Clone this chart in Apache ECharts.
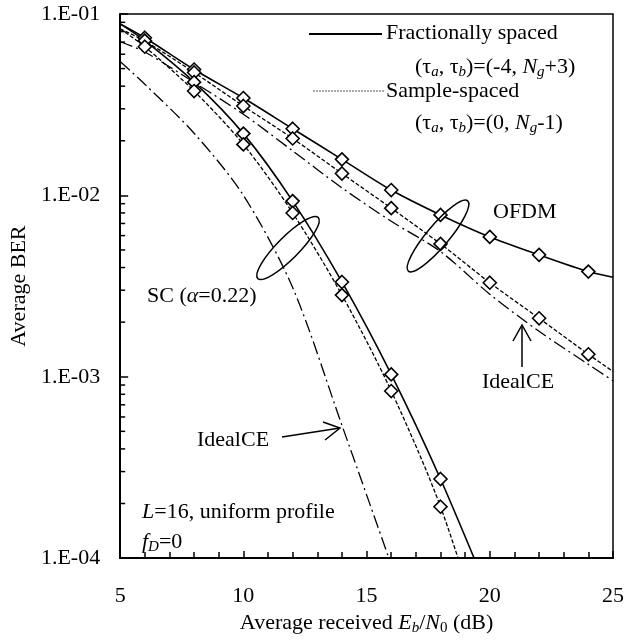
<!DOCTYPE html>
<html>
<head>
<meta charset="utf-8">
<script src="https://cdn.jsdelivr.net/npm/echarts@6/dist/echarts.min.js"></script>
<style>
  html, body { margin: 0; padding: 0; background: #fff; }
  #chart { width: 627px; height: 641px; }
</style>
</head>
<body>
<div id="chart"></div>
<script>
// Eb/N0 (dB) sample points
const ofdmX = [5, 6, 8, 10, 12, 14, 16, 18, 20, 22, 24, 25];
const scX = [5, 6, 8, 10, 12, 14, 16, 18, 20];
const scIdealX = [5, 6, 8, 10, 12, 14, 16];
const markerX = [6, 8, 10, 12, 14, 16, 18, 20, 22, 24];

// average BER
const ofdmFrac = [0.0882, 0.0740, 0.0494, 0.0344, 0.0233, 0.0158, 0.0107, 0.0078, 0.0059, 0.0047, 0.0038, 0.00354];
const ofdmSample = [0.0828, 0.0710, 0.0476, 0.0311, 0.0206, 0.0132, 0.0085, 0.0054, 0.0033, 0.0021, 0.00133, 0.00107];
const ofdmIdeal = [0.0703, 0.0617, 0.0420, 0.0280, 0.0176, 0.0110, 0.0072, 0.0049, 0.00285, 0.00178, 0.00117, 0.00095];
const scFrac = [0.0882, 0.0713, 0.0421, 0.0219, 0.0093, 0.00333, 0.00103, 0.000273, 0.000062];
const scSample = [0.0828, 0.0660, 0.0376, 0.0191, 0.0080, 0.00282, 0.000834, 0.000192, 0.000028];
const scIdeal = [0.0547, 0.0410, 0.0220, 0.0100, 0.0031, 0.00054, 0.000092];

const yTickLabels = ['1.E-04', '1.E-03', '1.E-02', '1.E-01'];
const yMinorTicks = [
  2e-4, 3e-4, 4e-4, 5e-4, 6e-4, 7e-4, 8e-4, 9e-4,
  2e-3, 3e-3, 4e-3, 5e-3, 6e-3, 7e-3, 8e-3, 9e-3,
  2e-2, 3e-2, 4e-2, 5e-2, 6e-2, 7e-2, 8e-2, 9e-2
];

const FONT = 'Liberation Serif';
const X_MIN = 5, Y_MIN = 1e-4;

function pts(xs, ys, withMarkers) {
  return xs.map((x, i) => ({
    value: [x, ys[i]],
    symbol: withMarkers && markerX.includes(x) && ys[i] >= Y_MIN ? 'diamond' : 'none'
  }));
}

const solid = { color: '#000', width: 1.6, type: 'solid' };
const dashed = { color: '#000', width: 1.3, type: [4, 2] };
const dashDot = { color: '#000', width: 1.3, type: [13, 4, 2, 4] };

function lineSeries(name, data, lineStyle) {
  return {
    name: name,
    type: 'line',
    data: data,
    smooth: 0.3,
    symbolSize: 13,
    showAllSymbol: true,
    lineStyle: lineStyle,
    itemStyle: { color: '#fff', borderColor: '#000', borderWidth: 1.6 },
    emphasis: { disabled: true },
    z: 3
  };
}

const rich = {
  n: { fontFamily: FONT, fontSize: 22, color: '#000', lineHeight: 26, verticalAlign: 'middle' },
  i: { fontFamily: FONT, fontSize: 22, color: '#000', fontStyle: 'italic', lineHeight: 26, verticalAlign: 'middle' },
  s: { fontFamily: FONT, fontSize: 15, color: '#000', fontStyle: 'italic', lineHeight: 12, verticalAlign: 'bottom' },
  s0: { fontFamily: FONT, fontSize: 15, color: '#000', lineHeight: 12, verticalAlign: 'bottom' }
};

function label(x, y, text) {
  return {
    type: 'text', x: x, y: y, z: 10,
    style: { text: text, rich: rich, align: 'left', verticalAlign: 'middle', font: '22px ' + FONT, fill: '#000' }
  };
}

const chart = echarts.init(document.getElementById('chart'), null, { renderer: 'canvas' });

const option = {
  backgroundColor: '#fff',
  animation: false,
  grid: {
    left: 117, right: 14, top: 14, bottom: 77,
    show: true, borderColor: '#000', borderWidth: 1.5
  },
  xAxis: {
    type: 'value',
    min: 5, max: 25, interval: 5,
    name: '{n|Average received }{i|E}{s|b}{n|/}{i|N}{s0|0}{n| (dB)}',
    nameLocation: 'middle',
    nameGap: 50,
    nameTextStyle: { rich: rich },
    axisLine: { lineStyle: { color: '#000', width: 2 } },
    axisTick: { inside: true, length: 7, lineStyle: { color: '#000', width: 1.5 } },
    minorTick: { show: true, splitNumber: 5, length: 6, lineStyle: { color: '#000', width: 1.5 } },
    axisLabel: { color: '#000', fontFamily: FONT, fontSize: 22, margin: 27 },
    splitLine: { show: false }
  },
  yAxis: {
    type: 'log',
    logBase: 10,
    min: 1e-4, max: 1e-1,
    name: 'Average BER',
    nameLocation: 'middle',
    nameGap: 88,
    nameTextStyle: { color: '#000', fontFamily: FONT, fontSize: 22 },
    axisLine: { show: true, lineStyle: { color: '#000', width: 2 } },
    axisTick: { inside: true, length: 8, lineStyle: { color: '#000', width: 1.5 } },
    axisLabel: {
      color: '#000', fontFamily: FONT, fontSize: 22, margin: 20,
      formatter: (v) => yTickLabels[Math.round(Math.log10(v)) + 4]
    },
    splitLine: { show: false }
  },
  series: [
    lineSeries('OFDM fractionally spaced', pts(ofdmX, ofdmFrac, true), solid),
    lineSeries('OFDM sample-spaced', pts(ofdmX, ofdmSample, true), dashed),
    lineSeries('OFDM ideal CE', pts(ofdmX, ofdmIdeal, false), dashDot),
    lineSeries('SC fractionally spaced', pts(scX, scFrac, true), solid),
    lineSeries('SC sample-spaced', pts(scX, scSample, true), dashed),
    lineSeries('SC ideal CE', pts(scIdealX, scIdeal, false), dashDot),
    {
      // minor ticks of the log axis (2..9 per decade)
      type: 'custom',
      silent: true,
      data: yMinorTicks.map(v => [X_MIN, v]),
      renderItem: (params, api) => {
        const p = api.coord([api.value(0), api.value(1)]);
        return {
          type: 'line',
          shape: { x1: p[0], y1: p[1], x2: p[0] + 5, y2: p[1] },
          style: { stroke: '#000', lineWidth: 1.5 }
        };
      },
      z: 4
    }
  ],
  graphic: [
    // legend
    { type: 'line', shape: { x1: 309, y1: 34, x2: 382, y2: 34 }, style: { stroke: '#000', lineWidth: 2 } },
    { type: 'line', shape: { x1: 313, y1: 91, x2: 385, y2: 91 }, style: { stroke: '#555', lineWidth: 1.2, lineDash: [2, 1] } },
    label(386, 33, '{n|Fractionally spaced}'),
    label(415, 67, '{n|(τ}{s|a}{n|, τ}{s|b}{n|)=(-4, }{i|N}{s|g}{n|+3)}'),
    label(386, 91, '{n|Sample-spaced}'),
    label(415, 123, '{n|(τ}{s|a}{n|, τ}{s|b}{n|)=(0, }{i|N}{s|g}{n|-1)}'),
    // annotations
    label(493, 212, '{n|OFDM}'),
    label(147, 296, '{n|SC (}{i|α}{n|=0.22)}'),
    label(197, 440, '{n|IdealCE}'),
    label(482, 382, '{n|IdealCE}'),
    label(142, 512, '{i|L}{n|=16, uniform profile}'),
    label(142, 542, '{i|f}{s|D}{n|=0}'),
    // group ellipses
    { type: 'ellipse', x: 438, y: 236, rotation: 0.87, shape: { cx: 0, cy: 0, rx: 46, ry: 11 }, style: { fill: 'none', stroke: '#000', lineWidth: 1.5 }, z: 10 },
    { type: 'ellipse', x: 288, y: 248, rotation: 0.79, shape: { cx: 0, cy: 0, rx: 43, ry: 11 }, style: { fill: 'none', stroke: '#000', lineWidth: 1.5 }, z: 10 },
    // arrows to the ideal CE curves
    { type: 'polyline', shape: { points: [[282, 437], [340, 428]] }, style: { stroke: '#000', lineWidth: 1.5, fill: 'none' }, z: 10 },
    { type: 'polyline', shape: { points: [[323, 422], [340, 428], [325, 440]] }, style: { stroke: '#000', lineWidth: 1.5, fill: 'none' }, z: 10 },
    { type: 'polyline', shape: { points: [[522, 367], [522, 325]] }, style: { stroke: '#000', lineWidth: 1.5, fill: 'none' }, z: 10 },
    { type: 'polyline', shape: { points: [[513, 341], [522, 325], [531, 341]] }, style: { stroke: '#000', lineWidth: 1.5, fill: 'none' }, z: 10 }
  ]
};

chart.setOption(option);
</script>
</body>
</html>
